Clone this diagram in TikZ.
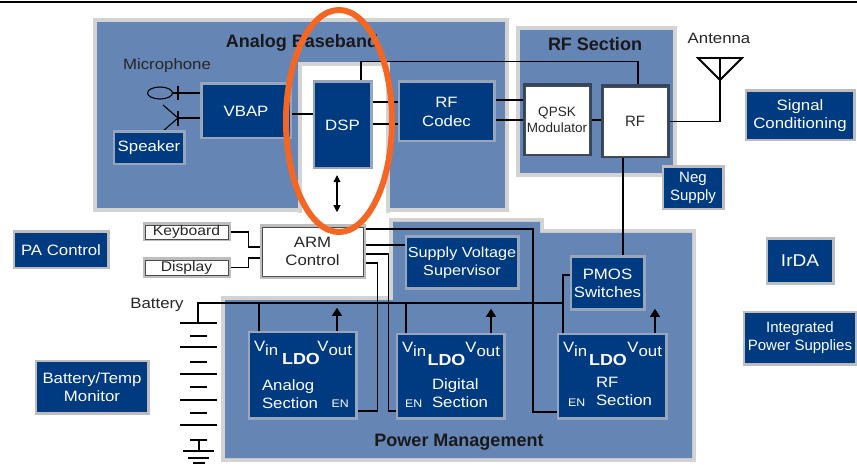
\documentclass[tikz,border=0pt]{standalone}
\usepackage{fontspec}
\setmainfont{Liberation Sans}[FakeStretch=1.12]
\newfontfamily\cf{Liberation Sans}
\usetikzlibrary{arrows.meta,calc,backgrounds}
\definecolor{panel}{HTML}{6585B5}
\definecolor{nblue}{HTML}{003A80}
\definecolor{framein}{HTML}{98A6BC}
\definecolor{frameout}{HTML}{BDBDBD}
\definecolor{framedark}{HTML}{34455F}
\definecolor{pframe}{HTML}{D3D3D3}
\definecolor{ring}{RGB}{244,102,33}
\begin{document}
\begin{tikzpicture}[x=1pt,y=-1pt,
  conn/.style={draw=black, line width=1.1pt},
  bluebox/.style={fill=nblue, text=white, inner sep=0pt, align=center,
     font=\fontsize{15}{18}\selectfont, preaction={draw=#1, line width=5pt}},
  bluebox/.default=framein,
  whitebox/.style={fill=white, draw=black!70, line width=0.7pt, text=black!85,
     inner sep=0pt, align=center, font=\fontsize{15}{18}\selectfont,
     preaction={draw=#1, line width=5pt}},
  whitebox/.default=frameout,
  lbl/.style={inner sep=0pt, text=black!85, font=\fontsize{15}{17}\selectfont},
  ttl/.style={inner sep=0pt, text=black!90, font=\cf\bfseries\fontsize{18}{20}\selectfont},
  ldot/.style={inner sep=0pt, text=white, font=\fontsize{15}{18}\selectfont},
  ldob/.style={inner sep=0pt, text=white, font=\bfseries\fontsize{16}{18}\selectfont},
  ent/.style={inner sep=0pt, text=white, font=\fontsize{11}{12}\selectfont},
  upar/.style={conn, -{Triangle[width=10pt,length=8pt]}},
]
\useasboundingbox (0,0) rectangle (857,465);

% ---------- nodes ----------
\node[bluebox, minimum width=87pt, minimum height=52pt] (VBAP) at (246,111) {VBAP};
\node[bluebox, minimum width=68pt, minimum height=30pt] (SPK) at (149,148) {Speaker};
\node[bluebox, minimum width=55pt, minimum height=84pt] (DSP) at (342.5,125) {DSP};
\node[bluebox, minimum width=93pt, minimum height=57pt, font=\fontsize{15}{19}\selectfont] (RFC) at (446.5,111.5) {RF\\Codec};
\node[whitebox=framedark, minimum width=64pt, minimum height=68pt, font=\cf\fontsize{13.5}{16}\selectfont] (QPSK) at (557,120) {QPSK\\Modulator};
\node[whitebox=framedark, minimum width=64pt, minimum height=69pt, font=\cf\fontsize{15}{17}\selectfont] (RF) at (635,121.5) {RF};
\node[bluebox=frameout, minimum width=58pt, minimum height=40pt, font=\cf\fontsize{15}{18}\selectfont] (NEG) at (693,188) {Neg\\Supply};
\node[bluebox=frameout, minimum width=106pt, minimum height=47pt] (SIG) at (800,115.5) {Signal\\Conditioning};
\node[bluebox=frameout, minimum width=92pt, minimum height=34pt] (PA) at (61,250) {PA Control};
\node[whitebox, minimum width=83pt, minimum height=14pt, font=\fontsize{14}{16}\selectfont] (KB) at (186.5,232) {Keyboard};
\node[whitebox, minimum width=83pt, minimum height=15pt, font=\fontsize{14}{16}\selectfont] (DISP) at (186.5,267.5) {Display};
\node[whitebox, minimum width=101pt, minimum height=49pt] (ARM) at (312.5,251.5) {ARM\\Control};
\node[bluebox, minimum width=110pt, minimum height=49pt, font=\fontsize{14.5}{18}\selectfont] (SVS) at (462,262.5) {Supply Voltage\\Supervisor};
\node[bluebox, minimum width=71pt, minimum height=50pt] (PMOS) at (607.5,283) {PMOS\\Switches};
\node[bluebox=frameout, minimum width=64pt, minimum height=42pt, font=\fontsize{17}{19}\selectfont] (IRDA) at (800,261) {IrDA};
\node[bluebox=frameout, minimum width=110pt, minimum height=50pt, font=\cf\fontsize{15}{18}\selectfont] (IPS) at (800,338) {Integrated\\Power Supplies};
\node[bluebox=frameout, minimum width=110pt, minimum height=50pt] (BTM) at (92,387) {Battery/Temp\\Monitor};
\node[bluebox, minimum width=105pt, minimum height=84pt] (LDO1) at (302.5,375) {};
\node[bluebox, minimum width=105pt, minimum height=82pt] (LDO2) at (450.5,376) {};
\node[bluebox, minimum width=106pt, minimum height=82pt] (LDO3) at (612,376) {};

% LDO inner texts
\node[ldot, anchor=base west] (v1i) at ([shift={(4pt,-19pt)}]LDO1.north west) {V\raisebox{-3.5pt}{in}};
\node[ldot, anchor=base east] (v1o) at ([shift={(-3pt,-19pt)}]LDO1.north east) {V\raisebox{-3.5pt}{out}};
\node[ldob, anchor=base] (l1) at ([shift={(-1.5pt,-32pt)}]LDO1.north) {LDO};
\node[ldot, anchor=west, align=left] (s1) at ([shift={(12pt,-19pt)}]LDO1.west) {Analog\\Section};
\node[ent] (e1) at ([shift={(-15pt,13pt)}]LDO1.south east) {EN};

\node[ldot, anchor=base west] (v2i) at ([shift={(4pt,-18pt)}]LDO2.north west) {V\raisebox{-3.5pt}{in}};
\node[ldot, anchor=base east] (v2o) at ([shift={(-3pt,-18pt)}]LDO2.north east) {V\raisebox{-3.5pt}{out}};
\node[ldob, anchor=base] (l2) at ([shift={(-4pt,-31pt)}]LDO2.north) {LDO};
\node[ldot, anchor=west, align=left] (s2) at ([shift={(34pt,-17pt)}]LDO2.west) {Digital\\Section};
\node[ent] (e2) at ([shift={(16pt,13pt)}]LDO2.south west) {EN};

\node[ldot, anchor=base west] (v3i) at ([shift={(4pt,-18pt)}]LDO3.north west) {V\raisebox{-3.5pt}{in}};
\node[ldot, anchor=base east] (v3o) at ([shift={(-3pt,-18pt)}]LDO3.north east) {V\raisebox{-3.5pt}{out}};
\node[ldob, anchor=base] (l3) at ([shift={(-4pt,-31pt)}]LDO3.north) {LDO};
\node[ldot, anchor=west, align=left] (s3) at ([shift={(37pt,-15pt)}]LDO3.west) {RF\\Section};
\node[ent] (e3) at ([shift={(18pt,14pt)}]LDO3.south west) {EN};

% labels and titles
\node[lbl] (micL) at (167,66) {Microphone};
\node[lbl] (antL) at (719,38) {Antenna};
\node[lbl] (batL) at (157,305) {Battery};
\node[ttl] (tAB) at (302,43) {Analog Baseband};
\node[ttl] (tRF) at (595,44) {RF Section};
\node[ttl] (tPM) at (459,442) {Power Management};

\begin{scope}[on background layer]
% panels
\path[fill=panel, preaction={draw=pframe, line width=8pt}] (97,22) rectangle (505,208);
\fill[white] (300,64) rectangle (388,213);
\draw[pframe, line width=4pt] (300,213) -- (300,64) -- (388,64) -- (388,213);
\path[fill=panel, preaction={draw=pframe, line width=8pt}] (520,30) rectangle (673,173);
\path[fill=panel, preaction={draw=pframe, line width=8pt}] (225,300) -- (393,300) -- (393,222) -- (540,222) -- (540,233) -- (692,233) -- (692,458) -- (225,458) -- cycle;

% connectors
\draw[conn] ([yshift=-3pt]VBAP.east) -- ([yshift=-3pt]VBAP.east -| DSP.west);
\draw[conn] ([yshift=23pt]DSP.east) -- ([yshift=23pt]DSP.east -| RFC.west);
\draw[conn] ([yshift=1pt]DSP.east) -- ([yshift=1pt]DSP.east -| RFC.west);
\draw[conn] ([yshift=11.5pt]RFC.east) -- ([yshift=11.5pt]RFC.east -| QPSK.west);
\draw[conn] ([yshift=-8.5pt]RFC.east) -- ([yshift=-8.5pt]RFC.east -| QPSK.west);
\draw[conn] (QPSK.east) -- (QPSK.east -| RF.west);
\draw[conn] ([xshift=18.5pt]DSP.north) |- ([xshift=3pt,yshift=25pt]RF.north) -- ([xshift=3pt]RF.north);
\coordinate (antTop) at (720,58);
\draw[conn, line width=1.6pt] (RF.east) -| (antTop);
\draw[conn] ([xshift=-12pt]RF.south) -- ([xshift=-12pt]RF.south |- PMOS.north);
\draw[conn, {Triangle[width=7pt,length=7pt]}-{Triangle[width=7pt,length=7pt]}] ([xshift=-5.5pt,yshift=-8pt]DSP.south) -- ([xshift=-5.5pt,yshift=-45pt]DSP.south);

\draw[conn] (KB.east) -- ++(20,0) |- ([yshift=4.5pt]ARM.west);
\draw[conn] (DISP.east) -- ++(20,0) |- ([yshift=-6.5pt]ARM.west);

\coordinate (c1) at (533,229);
\draw[conn] ([yshift=22.5pt]ARM.east) -- (c1) |- ([yshift=-36pt]LDO3.west);
\draw[conn] ([yshift=6.5pt]ARM.east) -- ([yshift=6.5pt]ARM.east -| SVS.west);
\draw[conn] ([yshift=-2.5pt]ARM.east) -- ++(25,0) |- ([yshift=-35pt]LDO2.west);
\draw[conn] ([yshift=-11.5pt]ARM.east) -- ++(14,0) |- ([yshift=-36pt]LDO1.east);

\coordinate (bus) at (198,303);
\draw[conn] (198,323) -- (bus) -- ([xshift=-49pt]LDO3.north |- bus);
\draw[conn] ([xshift=-43.5pt]LDO1.north) -- ([xshift=-43.5pt]LDO1.north |- bus);
\draw[conn] ([xshift=-44.5pt]LDO2.north) -- ([xshift=-44.5pt]LDO2.north |- bus);
\draw[conn] ([yshift=8pt]PMOS.west) -| ([xshift=-49pt]LDO3.north);

\draw[upar] ([xshift=34.5pt]LDO1.north) -- ++(0,-25);
\draw[upar] ([xshift=40.5pt]LDO2.north) -- ++(0,-26);
\draw[upar] ([xshift=43pt]LDO3.north) -- ++(0,-26);

% microphone and speaker symbols
\draw[line width=1.1pt] (160,93) ellipse [x radius=12.5, y radius=6];
\draw[conn] ([yshift=18pt]VBAP.west) -- ++(-30,0);
\draw[conn] (178,86) -- (178,100);
\draw[conn] ([yshift=-7pt]VBAP.west) -- ++(-25,0);
\draw[conn] (178,111) -- (178,126);
\draw[conn] (163,105) -- (178,118) -- (163,131);
\end{scope}

% antenna
\draw[line width=1.8pt, line join=miter] (698,58) -- (742,58) -- (720,80) -- cycle;

% battery
\foreach \yy in {323,347,374,400,425} \draw[conn] (180,\yy) -- (217,\yy);
\foreach \yy in {336,362,387,413,440} \draw[conn] (190,\yy) -- (207,\yy);
\draw[conn] (199,440) -- (199,451);
\draw[conn] (183,451) -- (214,451);
\draw[conn] (188,458) -- (209,458);
\draw[conn] (193,463) -- (205,463);

% top rule
\draw[line width=1.2pt] (0,2) -- (857,2);

% highlight ring
\draw[ring, line width=6pt] (339,121) ellipse [x radius=53, y radius=111];
\end{tikzpicture}
\end{document}
